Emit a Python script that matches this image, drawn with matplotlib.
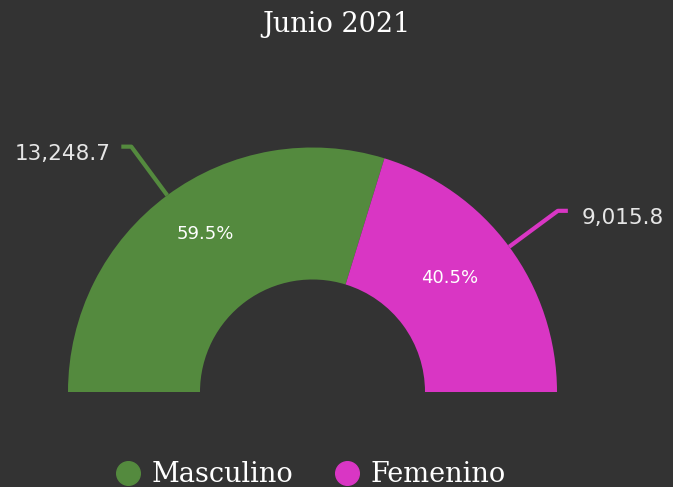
import numpy as np
import matplotlib
matplotlib.use('Agg')
import matplotlib.pyplot as plt
from matplotlib.lines import Line2D

# data
categories = ['Masculino', 'Femenino']
values = [13248.7, 9015.8]
colors = ['#548a3e', '#d936c4']
title = 'Junio 2021'

bg = '#333333'
W, H = 673, 487
fig = plt.figure(figsize=(W / 100, H / 100), dpi=100, facecolor=bg)
ax = fig.add_axes([0, 0, 1, 1])
ax.set_facecolor(bg)

cx, cy = 312.5, H - 392
R, width = 244.5, 132
total = sum(values)

# half donut: add a hidden wedge the size of the total
wedges, _ = ax.pie(values + [total], radius=R, center=(cx, cy), startangle=180,
                   counterclock=False, colors=colors + [bg],
                   wedgeprops=dict(width=width, linewidth=0))
wedges[-1].set_visible(False)

# angles of each slice midpoint
angles = []
start = 180
for v in values:
    span = 180 * v / total
    angles.append(np.deg2rad(start - span / 2))
    start -= span

pct_r = [190, 190]
pct_offset = [(6, 5), (-16, 1)]
for i, v in enumerate(values):
    a = angles[i]
    x = cx + pct_r[i] * np.cos(a) + pct_offset[i][0]
    y = cy + pct_r[i] * np.sin(a) + pct_offset[i][1]
    ax.text(x, y, f'{100 * v / total:.1f}%', color='white', fontsize=13,
            ha='center', va='center', family='DejaVu Sans')

# outer labels with connector lines
for i, v in enumerate(values):
    a = angles[i]
    x0, y0 = cx + R * np.cos(a), cy + R * np.sin(a)
    x1, y1 = cx + 305 * np.cos(a), cy + 305 * np.sin(a)
    side = np.sign(np.cos(a))
    x2 = x1 + side * 10
    ax.plot([x0, x1, x2], [y0, y1, y1], color=colors[i], lw=3,
            solid_joinstyle='round', solid_capstyle='butt')
    gap = 14 if side > 0 else 11
    ax.text(x2 + side * gap, y1 - 7, f'{v:,.1f}', color='#e6e6e6', fontsize=15.5,
            ha='left' if side > 0 else 'right', va='center', family='DejaVu Sans')

ax.set_xlim(0, W)
ax.set_ylim(0, H)
ax.set_aspect('auto')
ax.axis('off')

fig.text(0.5, 1 - 25 / H, title, color='white', fontsize=19.5, ha='center',
         va='center', family='DejaVu Serif')

handles = [Line2D([], [], marker='o', ls='', markersize=17, color=c) for c in colors]
leg = fig.legend(handles, categories, loc='center', bbox_to_anchor=(0.459, 1 - 475 / H),
                 ncol=2, frameon=False, fontsize=19.5, handletextpad=0.25,
                 columnspacing=1.4, handlelength=1.2)
for t in leg.get_texts():
    t.set_color('white')
    t.set_family('DejaVu Serif')

fig.savefig('out.png', dpi=100, facecolor=bg)
